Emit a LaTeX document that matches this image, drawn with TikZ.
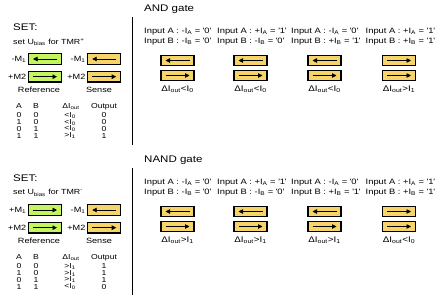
\documentclass[tikz,border=0pt]{standalone}
\usepackage{fontspec}
\setmainfont{Liberation Sans}[FakeStretch=1.2]
\usepackage{tikz}
\usetikzlibrary{
  arrows.meta,
  positioning
}
\definecolor{refgreen}{HTML}{C4F55E}
\definecolor{senseyellow}{HTML}{F5D46A}
\newcommand{\inlbl}[3]{Input #1 : #2I\textsubscript{#1} = \textquotesingle#3\textquotesingle}
\newcommand{\dIout}{ΔI\textsubscript{out}}
\tikzset{
  magbox/.style={
    rectangle, draw=black, fill=#1, line width=1.2pt,
    minimum width=33pt, minimum height=10.5pt, inner sep=0pt
  },
  magarrow/.style={
    -{Triangle[length=4.5pt,width=4.5pt]}, line width=0.9pt
  },
  gatetitle/.style={
    anchor=west, inner sep=0pt, font=\fontsize{9.6}{11}\selectfont
  },
  setnote/.style={
    anchor=west, inner sep=0pt, font=\fontsize{7.4}{9}\selectfont
  },
  inputnote/.style={
    anchor=west, inner sep=0pt, font=\fontsize{7.8}{9}\selectfont
  },
  maglabel/.style={
    inner sep=0pt, font=\fontsize{7.6}{9}\selectfont
  },
  reslabel/.style={
    inner sep=0pt, font=\fontsize{8.2}{9}\selectfont
  },
  tabcell/.style={
    inner sep=0pt, font=\fontsize{7.2}{8}\selectfont
  },
  divider/.style={
    line width=0.9pt, draw=black
  },
}

\begin{document}
\begin{tikzpicture}[x=1pt, y=-1pt, node distance=6pt and 25pt]
  \useasboundingbox (0,0) rectangle (436,301);

  %% ── AND gate: reference / sense ───────────────────────────────────────────
  \node[gatetitle] (andset)   at (13,27) {SET:};
  \node[setnote]   (andbias)  at (13,42) {set U\textsubscript{bias} for TMR\textsuperscript{+}};
  \node[magbox=refgreen]   (andrefA) at (45,59) {};
  \node[magbox=refgreen, below=of andrefA]      (andrefB) {};
  \node[magbox=senseyellow, right=of andrefA]   (andsenA) {};
  \node[magbox=senseyellow, below=of andsenA]   (andsenB) {};
  \node[maglabel, left=1.5pt of andrefA] (andrefAl) {-M\textsubscript{1}};
  \node[maglabel, left=1.5pt of andrefB] (andrefBl) {+M2};
  \node[maglabel, left=1.5pt of andsenA] (andsenAl) {-M\textsubscript{1}};
  \node[maglabel, left=1.5pt of andsenB] (andsenBl) {+M2};
  \draw[magarrow] (andrefA.center) ++(12,0) -- ++(-24,0);
  \draw[magarrow] (andrefB.center) ++(-12,0) -- ++(24,0);
  \draw[magarrow] (andsenA.center) ++(12,0) -- ++(-24,0);
  \draw[magarrow] (andsenB.center) ++(-12,0) -- ++(24,0);
  \node[maglabel] (andref) at (39,90) {Reference};
  \node[maglabel] (andsen) at (99,90) {Sense};

  % truth table
  \node[tabcell] (andhA) at (19,106.5) {A};
  \node[tabcell] (andhB) at (36,106.5) {B};
  \node[tabcell] (andhD) at (71,106.5) {\dIout};
  \node[tabcell] (andhO) at (104,106.5) {Output};
  \foreach \a/\b/\d/\o [count=\r from 0] in
      {0/0/{<I\textsubscript{0}}/0, 1/0/{<I\textsubscript{0}}/0,
       0/1/{<I\textsubscript{0}}/0, 1/1/{>I\textsubscript{1}}/1} {
    \node[tabcell] (andA\r) at (19,{115.5+6.7*\r}) {\a};
    \node[tabcell] (andB\r) at (36,{115.5+6.7*\r}) {\b};
    \node[tabcell] (andD\r) at (70,{115.5+6.7*\r}) {\d};
    \node[tabcell] (andO\r) at (104,{115.5+6.7*\r}) {\o};
  }

  \draw[divider] (132,17) coordinate (anddivtop) -- (132,145) coordinate (anddivbot);

  %% ── AND gate: input cases ─────────────────────────────────────────────────
  \node[gatetitle] (andtitle) at (144,9) {AND gate};
  \foreach \c/\x/\sa/\va/\sb/\vb/\s/\res in
      {1/177.5/-/0/-/0/-1/{<I\textsubscript{0}},
       2/250.5/+/1/-/0/-1/{<I\textsubscript{0}},
       3/324.5/-/0/+/1/-1/{<I\textsubscript{0}},
       4/399/+/1/+/1/1/{>I\textsubscript{1}}} {
    \node[inputnote] (andinA\c) at (\x-33.5,32) {\inlbl{A}{\sa}{\va}};
    \node[inputnote] (andinB\c) at (\x-33.5,42) {\inlbl{B}{\sb}{\vb}};
    \node[magbox=senseyellow, minimum height=10pt] (andtop\c) at (\x,60.5) {};
    \node[magbox=senseyellow, minimum height=10pt] (andbot\c) at (\x,75.5) {};
    \draw[magarrow] (andtop\c.center) ++(-12*\s,0) -- ++(24*\s,0);
    \draw[magarrow] (andbot\c.center) ++(-12,0) -- ++(24,0);
    \node[reslabel] (andres\c) at (\x,89.5) {\dIout\res};
  }

  %% ── NAND gate: reference / sense ──────────────────────────────────────────
  \node[gatetitle] (nandset)  at (13,178) {SET:};
  \node[setnote]   (nandbias) at (13,193) {set U\textsubscript{bias} for TMR\textsuperscript{-}};
  \node[magbox=refgreen]   (nandrefA) at (45,210) {};
  \node[magbox=refgreen, below=of nandrefA]     (nandrefB) {};
  \node[magbox=senseyellow, right=of nandrefA]  (nandsenA) {};
  \node[magbox=senseyellow, below=of nandsenA]  (nandsenB) {};
  \node[maglabel, left=1.5pt of nandrefA] (nandrefAl) {+M\textsubscript{1}};
  \node[maglabel, left=1.5pt of nandrefB] (nandrefBl) {+M2};
  \node[maglabel, left=1.5pt of nandsenA] (nandsenAl) {-M\textsubscript{1}};
  \node[maglabel, left=1.5pt of nandsenB] (nandsenBl) {+M2};
  \draw[magarrow] (nandrefA.center) ++(-12,0) -- ++(24,0);
  \draw[magarrow] (nandrefB.center) ++(-12,0) -- ++(24,0);
  \draw[magarrow] (nandsenA.center) ++(12,0) -- ++(-24,0);
  \draw[magarrow] (nandsenB.center) ++(-12,0) -- ++(24,0);
  \node[maglabel] (nandref) at (39,241) {Reference};
  \node[maglabel] (nandsen) at (99,241) {Sense};

  % truth table
  \node[tabcell] (nandhA) at (19,257.5) {A};
  \node[tabcell] (nandhB) at (36,257.5) {B};
  \node[tabcell] (nandhD) at (71,257.5) {\dIout};
  \node[tabcell] (nandhO) at (104,257.5) {Output};
  \foreach \a/\b/\d/\o [count=\r from 0] in
      {0/0/{>I\textsubscript{1}}/1, 1/0/{>I\textsubscript{1}}/1,
       0/1/{>I\textsubscript{1}}/1, 1/1/{<I\textsubscript{0}}/0} {
    \node[tabcell] (nandA\r) at (19,{266.5+6.7*\r}) {\a};
    \node[tabcell] (nandB\r) at (36,{266.5+6.7*\r}) {\b};
    \node[tabcell] (nandD\r) at (70,{266.5+6.7*\r}) {\d};
    \node[tabcell] (nandO\r) at (104,{266.5+6.7*\r}) {\o};
  }

  \draw[divider] (132,168) coordinate (nanddivtop) -- (132,295) coordinate (nanddivbot);

  %% ── NAND gate: input cases ────────────────────────────────────────────────
  \node[gatetitle] (nandtitle) at (144,160) {NAND gate};
  \foreach \c/\x/\sa/\va/\sb/\vb/\s/\res in
      {1/177.5/-/0/-/0/-1/{>I\textsubscript{1}},
       2/250.5/+/1/-/0/-1/{>I\textsubscript{1}},
       3/324.5/-/0/+/1/-1/{>I\textsubscript{1}},
       4/399/+/1/+/1/1/{<I\textsubscript{0}}} {
    \node[inputnote] (nandinA\c) at (\x-33.5,183) {\inlbl{A}{\sa}{\va}};
    \node[inputnote] (nandinB\c) at (\x-33.5,193) {\inlbl{B}{\sb}{\vb}};
    \node[magbox=senseyellow, minimum height=10pt] (nandtop\c) at (\x,211.5) {};
    \node[magbox=senseyellow, minimum height=10pt] (nandbot\c) at (\x,226.5) {};
    \draw[magarrow] (nandtop\c.center) ++(-12*\s,0) -- ++(24*\s,0);
    \draw[magarrow] (nandbot\c.center) ++(-12,0) -- ++(24,0);
    \node[reslabel] (nandres\c) at (\x,240.5) {\dIout\res};
  }

\end{tikzpicture}
\end{document}
